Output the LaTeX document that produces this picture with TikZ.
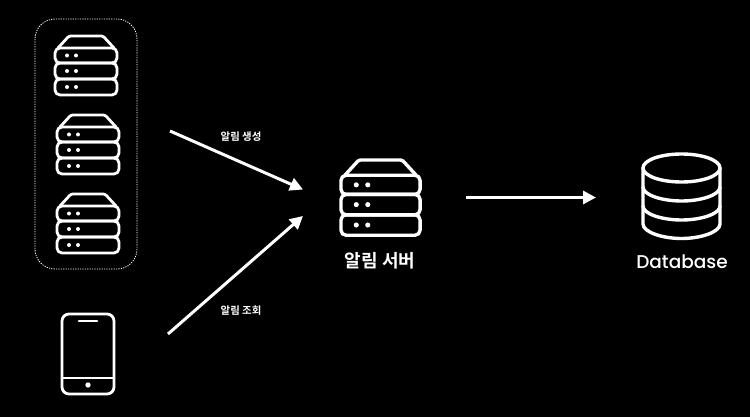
\documentclass[tikz,border=0pt]{standalone}
\usepackage{fontspec}
\setmainfont{Poppins}
\newfontfamily\krfont{Noto Sans CJK KR}[BoldFont={Noto Sans CJK KR Bold}]
\usetikzlibrary{arrows.meta}
\tikzset{
  x=1pt,y=-1pt,
  iconline/.style={draw=white,line width=#1,line join=round,line cap=round},
  iconline/.default=2.8pt,
  flow/.style={draw=white,line width=3pt,-{Triangle[length=13pt,width=13pt]}},
  smalllabel/.style={text=white,font=\krfont\bfseries\fontsize{10.4}{12}\selectfont,inner sep=0pt},
  biglabel/.style={text=white,font=\krfont\bfseries\fontsize{18}{21}\selectfont,inner sep=0pt},
  dblabel/.style={text=white,font=\fontsize{18.5}{21}\selectfont\fontspec{Poppins Medium},inner sep=0pt},
  serverpic/.pic={
    \draw[iconline=#1,rounded corners=1.5pt] (3,12) -- (14,0) -- (48,0) -- (59,12);
    \draw[iconline=#1,rounded corners=5pt] (0,12) rectangle (62,27);
    \draw[iconline=#1,rounded corners=5pt] (0,27) rectangle (62,43);
    \draw[iconline=#1,rounded corners=5pt] (0,43) rectangle (62,59);
    \foreach \yy in {19.5,35,51}{
      \fill[white] (12,\yy) circle (2pt) (21,\yy) circle (2pt);
    }
  }
}
\begin{document}
\begin{tikzpicture}
\useasboundingbox[fill=black] (0,0) rectangle (750,417);
% dashed group
\draw[white,line width=0.8pt,dash pattern=on 1.2pt off 1.2pt,rounded corners=20pt] (35,19) rectangle (137,269);
% servers
\pic at (55,36) {serverpic={2.8pt}};
\pic at (57,115) {serverpic={2.8pt}};
\pic at (57,194) {serverpic={2.8pt}};
\pic[scale=1.275] at (341,160) {serverpic={3.4pt}};
% phone
\draw[iconline=2.8pt,rounded corners=7pt] (62,314) rectangle (114,394);
\draw[iconline=2.2pt] (62,378) -- (114,378);
\draw[iconline=2.8pt] (79,321) -- (97,321);
\fill[white] (88,385) circle (2.7pt);
% database
\draw[iconline=3.4pt] (643,168) arc[x radius=38.5,y radius=-14,start angle=180,end angle=-180];
\draw[iconline=3.4pt] (643,168) -- (643,224) .. controls (643,232) and (662,238.5) .. (681.5,238.5) .. controls (701,238.5) and (720,232) .. (720,224) -- (720,168);
\draw[iconline=3.4pt] (643,187) .. controls (643,195) and (662,201) .. (681.5,201) .. controls (701,201) and (720,195) .. (720,187);
\draw[iconline=3.4pt] (643,206) .. controls (643,214) and (662,220) .. (681.5,220) .. controls (701,220) and (720,214) .. (720,206);
% labels
\node[biglabel] (srvlabel) at (380,261) {알림 서버};
\node[dblabel] (dblabel) at (682,261.5) {Database};
\node[smalllabel] (createlabel) at (241,137) {알림 생성};
\node[smalllabel] (querylabel) at (241,311) {알림 조회};
% connectors
\coordinate (groupout) at (170,131);
\coordinate (phoneout) at (168,334);
\coordinate (srvin1) at (303,189.5);
\coordinate (srvin2) at (303,216);
\coordinate (srvout) at (466,197.5);
\coordinate (dbin) at (596,197.5);
\draw[flow] (groupout) -- (srvin1);
\draw[flow] (phoneout) -- (srvin2);
\draw[flow] (srvout) -- (dbin);
\end{tikzpicture}
\end{document}
